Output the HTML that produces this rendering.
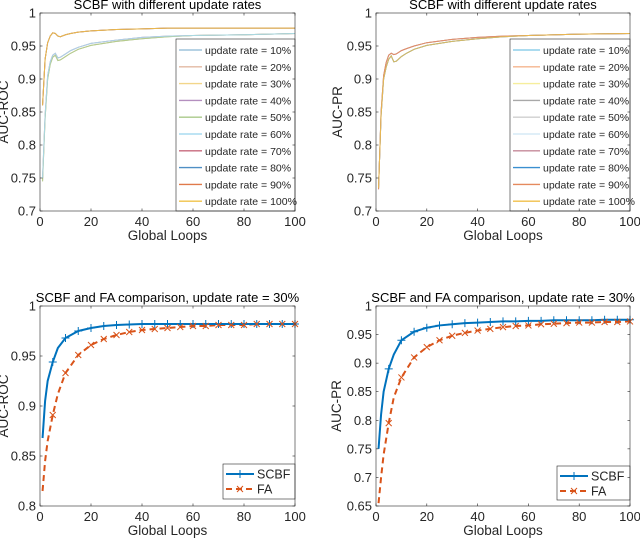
<!DOCTYPE html>
<html><head><meta charset="utf-8"><style>
html,body{margin:0;padding:0;background:#fff;width:640px;height:539px;overflow:hidden}
svg{font-family:"Liberation Sans",Arial,sans-serif}
</style></head><body>
<svg id="fig" width="640" height="539" viewBox="0 0 640 539"></svg>
<script>
// ---- data ----
const loopsTop = [1,2,3,4,5,6,7,8,10,12,15,20,30,40,50,60,80,100];
const rateLabels = ['10%','20%','30%','40%','50%','60%','70%','80%','90%','100%'];
const rocHigh = [0.86,0.93,0.955,0.965,0.970,0.969,0.965,0.964,0.967,0.969,0.971,0.973,0.975,0.976,0.977,0.977,0.977,0.977];
const rocLow  = [0.745,0.84,0.90,0.922,0.933,0.936,0.928,0.929,0.934,0.939,0.945,0.951,0.957,0.961,0.964,0.966,0.967,0.969];
const rocLow2 = [0.75,0.845,0.905,0.926,0.936,0.939,0.932,0.933,0.938,0.943,0.948,0.954,0.959,0.963,0.965,0.966,0.967,0.969];
const prA = [0.733,0.85,0.905,0.925,0.936,0.939,0.937,0.938,0.943,0.946,0.950,0.955,0.960,0.963,0.965,0.966,0.968,0.969];
const prB = [0.735,0.845,0.90,0.918,0.930,0.935,0.926,0.927,0.934,0.939,0.945,0.951,0.957,0.961,0.964,0.966,0.968,0.969];
const loopsBot = [1,2,3,5,7,10,15,20,25,30,35,40,45,50,55,60,65,70,75,80,85,90,95,100];
const rocSCBF = [0.868,0.905,0.925,0.944,0.958,0.968,0.975,0.978,0.980,0.981,0.9815,0.982,0.982,0.982,0.982,0.982,0.982,0.982,0.982,0.982,0.982,0.982,0.982,0.982];
const rocFA   = [0.815,0.845,0.865,0.891,0.912,0.933,0.951,0.961,0.967,0.971,0.974,0.976,0.977,0.978,0.979,0.980,0.980,0.981,0.981,0.981,0.982,0.982,0.982,0.982];
const prSCBF  = [0.75,0.81,0.85,0.89,0.915,0.94,0.955,0.962,0.966,0.968,0.970,0.971,0.972,0.973,0.973,0.974,0.974,0.975,0.975,0.975,0.975,0.976,0.976,0.976];
const prFA    = [0.655,0.70,0.74,0.795,0.84,0.875,0.91,0.928,0.940,0.948,0.953,0.957,0.960,0.963,0.965,0.966,0.968,0.969,0.970,0.971,0.971,0.972,0.972,0.973];
const rocTicks = [0.7,0.75,0.8,0.85,0.9,0.95,1];
const prTicksTop = [0.7,0.75,0.8,0.85,0.9,0.95,1];
const rocTicksBot = [0.8,0.85,0.9,0.95,1];
const prTicksBot = [0.65,0.7,0.75,0.8,0.85,0.9,0.95,1];
const xTicks = [0,20,40,60,80,100];

const NS='http://www.w3.org/2000/svg';
const fig=document.getElementById('fig');
function mk(tag,attrs,parent,name,inter){const e=document.createElementNS(NS,tag);for(const k in attrs)e.setAttribute(k,attrs[k]);


(parent||fig).appendChild(e);return e;}

function axes(o){
  const g=mk('g',{},fig,o.name,false);
  const X=v=>o.l+(v-0)/(100)*(o.r-o.l);
  const Y=v=>o.b-(v-o.ymin)/(o.ymax-o.ymin)*(o.b-o.t);
  mk('rect',{x:o.l,y:o.t,width:o.r-o.l,height:o.b-o.t,fill:'#fff',stroke:'none'},g,'plot-area',false);
  return {g,X,Y};
}
function frame(o,a){
  const g=a.g;
  mk('rect',{x:o.l,y:o.t,width:o.r-o.l,height:o.b-o.t,fill:'none',stroke:'#262626','stroke-width':0.6},g,'axes-box',false);
  xTicks.forEach(v=>{const x=a.X(v);
    mk('line',{x1:x,x2:x,y1:o.b,y2:o.b-2.5,stroke:'#262626','stroke-width':0.6},g,'x-tick',false);
    mk('line',{x1:x,x2:x,y1:o.t,y2:o.t+2.5,stroke:'#262626','stroke-width':0.6},g,'x-tick',false);
    const t=mk('text',{x:x,y:o.b+15,'text-anchor':'middle','font-size':13,fill:'#262626'},g,'x-tick-label',false);t.textContent=v;});
  o.yticks.forEach(v=>{const y=a.Y(v);
    mk('line',{x1:o.l,x2:o.l+2.5,y1:y,y2:y,stroke:'#262626','stroke-width':0.6},g,'y-tick',false);
    mk('line',{x1:o.r,x2:o.r-2.5,y1:y,y2:y,stroke:'#262626','stroke-width':0.6},g,'y-tick',false);
    const t=mk('text',{x:o.l-4,y:y+4.5,'text-anchor':'end','font-size':13,fill:'#262626'},g,'y-tick-label',false);t.textContent=String(v);});
  let t=mk('text',{x:(o.l+o.r)/2,y:o.b+29,'text-anchor':'middle','font-size':13.5,fill:'#262626'},g,'x-axis-title',false);t.textContent='Global Loops';
  const cy=(o.t+o.b)/2, cx=o.l-o.yl;
  t=mk('text',{x:cx,y:cy,'text-anchor':'middle','font-size':13.5,fill:'#262626',transform:`rotate(-90 ${cx} ${cy})`},g,'y-axis-title',false);t.textContent=o.ylabel;
  t=mk('text',{x:(o.l+o.r)/2,y:o.t-4,'text-anchor':'middle','font-size':13,fill:'#000'},g,'chart-title',false);t.textContent=o.title;
}
function path(a,xs,ys,attrs,name){
  const d=xs.map((x,i)=>(i?'L':'M')+a.X(x).toFixed(2)+' '+a.Y(ys[i]).toFixed(2)).join(' ');
  return mk('path',Object.assign({d,fill:'none'},attrs),a.g,name,false);
}

function topChart(o,colors,seriesFor){
  const a=axes(o);
  [0,1,2,3,4,5,6,7,8,9].forEach(i=>path(a,loopsTop,seriesFor(i),{stroke:colors[i],'stroke-width':1,opacity:0.85},'series-line-'+rateLabels[i].replace('%','pct')));
  const L=o.leg;
  const lg=mk('g',{},a.g,'legend',false);
  mk('rect',{x:L.x,y:L.y,width:L.w,height:L.h,fill:'#fff',stroke:'#262626','stroke-width':0.6},lg,'legend-box',false);
  rateLabels.forEach((lab,i)=>{const y=L.y+11+i*16.8;
    mk('line',{x1:L.x+3,x2:L.x+L.lw,y1:y,y2:y,stroke:colors[i],'stroke-width':1.4},lg,'legend-swatch',false);
    const t=mk('text',{x:L.x+L.lw+3,y:y+4,'font-size':10.5,fill:'#262626'},lg,'legend-entry',false);t.textContent='update rate = '+lab;});
  frame(o,a);
}
const colTL=['#9ec3dc','#e3b9a3','#f2d68a','#b48fbf','#a9c98a','#a8dcf0','#c76a7d','#4f8fc5','#e07a4a','#f0c34a'];
topChart({name:'chart-auc-roc-rates',l:40,r:295,t:13,b:211,ymin:0.7,ymax:1,yl:32,yticks:rocTicks,ylabel:'AUC-ROC',title:'SCBF with different update rates',
  leg:{x:176,y:39,w:119,h:172,lw:26}},colTL,i=> i>=6? rocHigh : (i%2? rocLow2: rocLow));
const colTR=['#8fcfea','#f4b58e','#f6ee9c','#a8a8a8','#cfcfcf','#d6eaf6','#c58a99','#3a8fd0','#e58a5e','#f0bf4a'];
topChart({name:'chart-auc-pr-rates',l:376,r:630,t:13,b:211,ymin:0.7,ymax:1,yl:34,yticks:prTicksTop,ylabel:'AUC-PR',title:'SCBF with different update rates',
  leg:{x:510,y:39,w:120,h:172,lw:30}},colTR,i=> (i%2? prB : prA));

function botChart(o,s,f){
  const a=axes(o);
  path(a,loopsBot,f,{stroke:'#D95319','stroke-width':2,'stroke-dasharray':'6 4'},'series-line-fa');
  path(a,loopsBot,s,{stroke:'#0072BD','stroke-width':2},'series-line-scbf');
  loopsBot.forEach((x,i)=>{ if(x%5) return;
    const px=a.X(x),py=a.Y(s[i]);
    mk('path',{d:`M${px-4} ${py}H${px+4}M${px} ${py-4}V${py+4}`,stroke:'#0072BD','stroke-width':1},a.g,'marker-scbf',false);
    const qx=a.X(x),qy=a.Y(f[i]);
    mk('path',{d:`M${qx-3} ${qy-3}L${qx+3} ${qy+3}M${qx-3} ${qy+3}L${qx+3} ${qy-3}`,stroke:'#D95319','stroke-width':1},a.g,'marker-fa',false);
  });
  const L=o.leg;
  const lg=mk('g',{},a.g,'legend',false);
  mk('rect',{x:L.x,y:L.y,width:L.w,height:L.h,fill:'#fff',stroke:'#262626','stroke-width':0.6},lg,'legend-box',false);
  let y=L.y+10;
  mk('line',{x1:L.x+3,x2:L.x+31,y1:y,y2:y,stroke:'#0072BD','stroke-width':2},lg,'legend-swatch-scbf',false);
  mk('path',{d:`M${L.x+13} ${y}H${L.x+21}M${L.x+17} ${y-4}V${y+4}`,stroke:'#0072BD','stroke-width':1},lg,'legend-marker-scbf',false);
  let t=mk('text',{x:L.x+34,y:y+4.5,'font-size':12.5,fill:'#262626'},lg,'legend-entry-scbf',false);t.textContent='SCBF';
  y=L.y+25;
  mk('line',{x1:L.x+3,x2:L.x+31,y1:y,y2:y,stroke:'#D95319','stroke-width':2,'stroke-dasharray':'6 4'},lg,'legend-swatch-fa',false);
  mk('path',{d:`M${L.x+14} ${y-3}L${L.x+20} ${y+3}M${L.x+14} ${y+3}L${L.x+20} ${y-3}`,stroke:'#D95319','stroke-width':1},lg,'legend-marker-fa',false);
  t=mk('text',{x:L.x+34,y:y+4.5,'font-size':12.5,fill:'#262626'},lg,'legend-entry-fa',false);t.textContent='FA';
  frame(o,a);
}
botChart({name:'chart-auc-roc-comparison',l:40,r:295,t:306,b:506,ymin:0.8,ymax:1,yl:32,yticks:rocTicksBot,ylabel:'AUC-ROC',title:'SCBF and FA comparison, update rate = 30%',
  leg:{x:223,y:464,w:72,h:35}},rocSCBF,rocFA);
botChart({name:'chart-auc-pr-comparison',l:376,r:630,t:306,b:506,ymin:0.65,ymax:1,yl:35,yticks:prTicksBot,ylabel:'AUC-PR',title:'SCBF and FA comparison, update rate = 30%',
  leg:{x:557,y:466,w:73,h:34}},prSCBF,prFA);
</script>
</body></html>
